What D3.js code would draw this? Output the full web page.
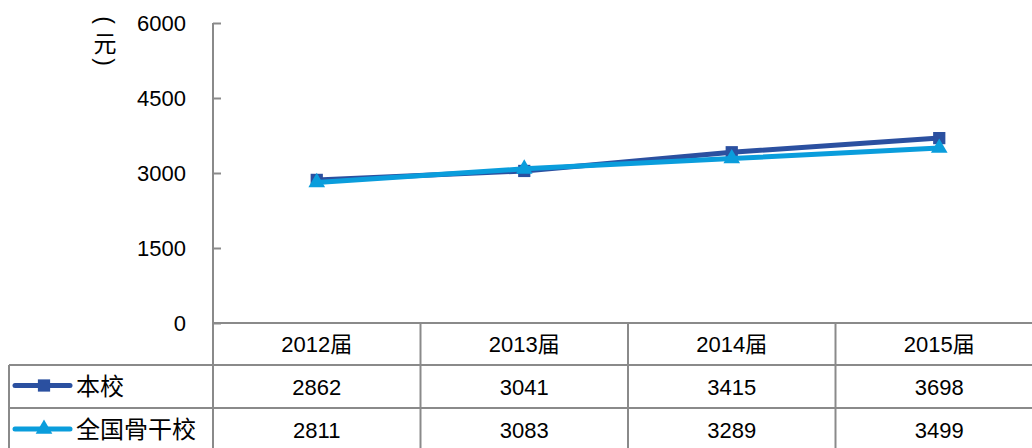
<!DOCTYPE html>
<html lang="zh">
<head>
<meta charset="UTF-8">
<script src="https://d3js.org/d3.v7.min.js"></script>
<style>
  body { margin: 0; background: #fff; }
  svg { display: block; }
  text { font-family: "Liberation Sans", Arial, "Noto Sans CJK SC", sans-serif; fill: #000; }
  .cjk { font-family: "Noto Sans CJK SC", sans-serif; }
</style>
</head>
<body>
<svg id="chart" width="1032" height="448"></svg>
<script>
  // data
  const categories = ["2012届", "2013届", "2014届", "2015届"];
  const seriesNames = ["本校", "全国骨干校"];
  const benxiao = [2862, 3041, 3415, 3698];
  const quanguo = [2811, 3083, 3289, 3499];
  const yTicks = [0, 1500, 3000, 4500, 6000];
  const yUnit = ["(", "元", ")"];

  const colors = ["#2b50a0", "#0a9ddc"];
  const gridColor = "#8a8a8a";

  const svg = d3.select("#chart");
  const plotL = 213, plotR = 1043, plotT = 23, plotB = 323;
  const rowY = [323, 365, 408, 452];

  const x = d3.scaleBand().domain(categories).range([plotL, plotR]);
  const y = d3.scaleLinear().domain([0, 6000]).range([plotB, plotT]);

  // y axis ticks pointing inward, labels on the left
  const yAxis = svg.append("g")
      .attr("transform", `translate(${plotL},0)`)
      .call(d3.axisLeft(y).tickValues(yTicks).tickFormat(d3.format("d"))
        .tickSize(-8).tickSizeOuter(0).tickPadding(27));
  yAxis.select(".domain").remove();
  yAxis.selectAll(".tick line").attr("stroke", gridColor).attr("stroke-width", 2);
  yAxis.selectAll(".tick text").attr("font-size", 22).attr("fill", "#000")
      .attr("font-family", "'Liberation Sans', Arial, sans-serif");

  // unit label, vertical: parens turned sideways, character upright
  const unit = svg.append("g").attr("class", "cjk").attr("font-size", 23)
      .attr("text-anchor", "middle").attr("dominant-baseline", "central");
  unit.append("text").attr("transform", "translate(105,20) rotate(90)").text(yUnit[0]);
  unit.append("text").attr("x", 105).attr("y", 44).text(yUnit[1]);
  unit.append("text").attr("transform", "translate(105,62) rotate(90)").text(yUnit[2]);

  // table lines
  const lines = svg.append("g").attr("stroke", gridColor).attr("stroke-width", 2);
  lines.append("line").attr("x1", plotL).attr("x2", plotL).attr("y1", plotT).attr("y2", 448);
  lines.append("line").attr("x1", plotL).attr("x2", plotR).attr("y1", rowY[0]).attr("y2", rowY[0]);
  lines.append("line").attr("x1", 9).attr("x2", plotR).attr("y1", rowY[1]).attr("y2", rowY[1]);
  lines.append("line").attr("x1", 9).attr("x2", plotR).attr("y1", rowY[2]).attr("y2", rowY[2]);
  lines.append("line").attr("x1", 9).attr("x2", 9).attr("y1", rowY[1]).attr("y2", 448);
  categories.slice(1).forEach(c => {
    lines.append("line").attr("x1", x(c)).attr("x2", x(c)).attr("y1", rowY[0]).attr("y2", 448);
  });

  // category row
  svg.append("g").selectAll("text").data(categories).join("text")
      .attr("x", d => x(d) + x.bandwidth() / 2)
      .attr("y", (rowY[0] + rowY[1]) / 2 + 8)
      .attr("text-anchor", "middle")
      .attr("font-size", 22)
      .text(d => d);

  const series = [benxiao, quanguo];

  // value rows
  series.forEach((vals, i) => {
    const cy = (rowY[i + 1] + rowY[i + 2]) / 2 + 8;
    svg.append("g").selectAll("text").data(vals).join("text")
        .attr("x", (d, j) => x(categories[j]) + x.bandwidth() / 2)
        .attr("y", cy)
        .attr("text-anchor", "middle")
        .attr("font-size", 22)
        .text(d => d);
  });

  const symbols = [d3.symbolSquare, d3.symbolTriangle];
  const symSize = [150, 120];

  // legend keys in table
  series.forEach((vals, i) => {
    const cy = (rowY[i + 1] + rowY[i + 2]) / 2 - 1;
    const g = svg.append("g");
    g.append("line").attr("x1", 15).attr("x2", 70).attr("y1", cy).attr("y2", cy)
        .attr("stroke", colors[i]).attr("stroke-width", 5).attr("stroke-linecap", "round");
    g.append("path").attr("d", d3.symbol(symbols[i], symSize[i])())
        .attr("transform", `translate(44,${cy})`).attr("fill", colors[i]);
    g.append("text").attr("class", "cjk")
        .attr("x", 76).attr("y", cy + 9)
        .attr("font-size", 24)
        .text(seriesNames[i]);
  });

  // lines + markers
  const line = d3.line()
      .x((d, j) => x(categories[j]) + x.bandwidth() / 2)
      .y(d => y(d));

  series.forEach((vals, i) => {
    svg.append("path").datum(vals)
        .attr("d", line)
        .attr("fill", "none")
        .attr("stroke", colors[i])
        .attr("stroke-width", 5)
        .attr("stroke-linejoin", "round");
    svg.append("g").selectAll("path").data(vals).join("path")
        .attr("d", d3.symbol(symbols[i], symSize[i])())
        .attr("transform", (d, j) => `translate(${x(categories[j]) + x.bandwidth() / 2},${y(d)})`)
        .attr("fill", colors[i]);
  });
</script>
</body>
</html>
